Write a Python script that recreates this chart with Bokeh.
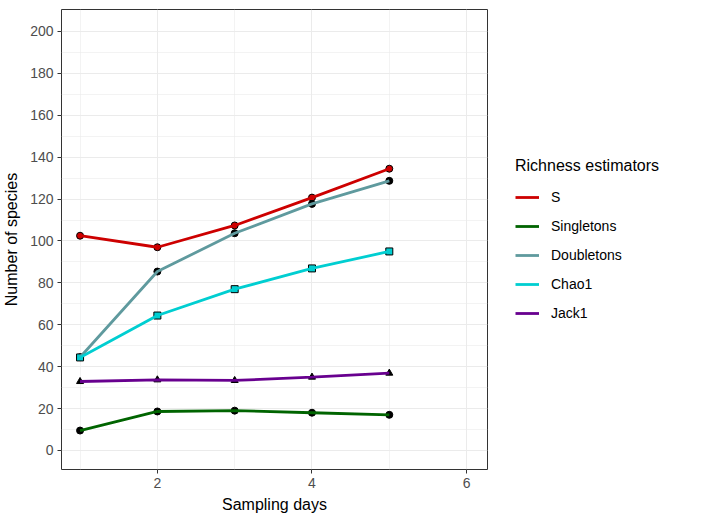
from bokeh.plotting import figure
from bokeh.models import FixedTicker, Legend, LegendItem, Range1d
from bokeh.layouts import row
from bokeh.embed import file_html
from bokeh.resources import INLINE

days = [1, 2, 3, 4, 5]
S = [102.5, 97.0, 107.4, 120.7, 134.5]
singletons = [9.5, 18.6, 19.0, 18.0, 17.0]
doubletons = [44.5, 85.4, 103.7, 117.7, 128.7]
chao1 = [44.4, 64.4, 77.0, 86.9, 95.0]
jack1 = [32.9, 33.7, 33.4, 35.0, 36.9]

series_names = ["S", "Singletons", "Doubletons", "Chao1", "Jack1"]
series_values = [S, singletons, doubletons, chao1, jack1]
colors = ["#CD0000", "#006400", "#5F9A9E", "#00CED1", "#68008F"]
markers = ["circle", "circle", "circle", "square", "triangle"]
fills = ["#CD0000", "black", "black", "#00CED1", "black"]

x_ticks = [2, 4, 6]
y_ticks = list(range(0, 201, 20))

FONT = "Liberation Sans"

p = figure(width=488, height=525, output_backend="svg", toolbar_location=None,
           x_range=Range1d(0.76, 6.27), y_range=Range1d(-9.1, 210.5),
           min_border_left=61, min_border_right=1, min_border_top=9, min_border_bottom=56)
p.background_fill_color = "white"
p.border_fill_color = "white"
p.outline_line_color = "#333333"
p.outline_line_width = 1

p.xaxis.ticker = FixedTicker(ticks=x_ticks, minor_ticks=[1, 3, 5])
p.yaxis.ticker = FixedTicker(ticks=y_ticks, minor_ticks=list(range(10, 210, 20)))
for ax in (p.xaxis, p.yaxis):
    ax.axis_line_color = None
    ax.major_tick_line_color = "#333333"
    ax.major_tick_out = 4
    ax.major_tick_in = 0
    ax.minor_tick_line_color = None
    ax.major_label_text_color = "#4D4D4D"
    ax.major_label_text_font_size = "14px"
    ax.major_label_text_font = FONT
    ax.axis_label_text_font = FONT
    ax.axis_label_text_font_size = "16px"
    ax.axis_label_text_font_style = "normal"
    ax.axis_label_text_color = "black"
p.xaxis.axis_label = "Sampling days"
p.yaxis.axis_label = "Number of species"
p.xaxis.axis_label_standoff = 5
p.yaxis.axis_label_standoff = 7
p.xaxis.major_label_standoff = 4
p.yaxis.major_label_standoff = 4

for g in (p.xgrid, p.ygrid):
    g.grid_line_color = "#EBEBEB"
    g.grid_line_width = 1
    g.minor_grid_line_color = "#EBEBEB"
    g.minor_grid_line_width = 0.6

for vals, mk, fc in zip(series_values, markers, fills):
    p.scatter(days, vals, marker=mk, size=7, fill_color=fc, line_color="black", line_width=1)
for vals, col in zip(series_values, colors):
    p.line(days, vals, line_color=col, line_width=2.8)

# Legend panel: a second figure whose ranges keep its copies of the series out of view
lg = figure(width=214, height=525, output_backend="svg", toolbar_location=None,
            x_range=Range1d(-20, -19), y_range=Range1d(-20, -19),
            min_border_left=0, min_border_right=0, min_border_top=0, min_border_bottom=0)
lg.axis.visible = False
lg.grid.visible = False
lg.outline_line_color = None
lg.background_fill_color = "white"
lg.border_fill_color = "white"
items = []
for name, vals, col in zip(series_names, series_values, colors):
    r = lg.line(days, vals, line_color=col, line_width=2.8)
    items.append(LegendItem(label=name, renderers=[r]))

legend = Legend(items=items, location=(27, 146))
legend.title = "Richness estimators"
legend.title_text_font = FONT
legend.title_text_font_size = "16px"
legend.title_text_font_style = "normal"
legend.title_text_color = "black"
legend.title_standoff = 12
legend.label_text_font = FONT
legend.label_text_font_size = "14px"
legend.label_text_color = "black"
legend.glyph_width = 24
legend.glyph_height = 20
legend.spacing = 9
legend.label_standoff = 12
legend.border_line_color = None
legend.background_fill_alpha = 0
legend.padding = 0
legend.margin = 0
lg.add_layout(legend)

layout = row(p, lg)
open("out.html", "w").write(file_html(layout, INLINE))
